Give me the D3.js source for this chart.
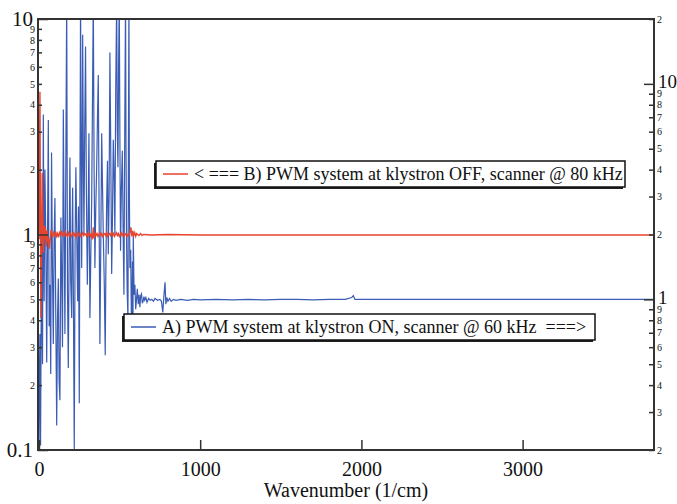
<!DOCTYPE html>
<html><head><meta charset="utf-8">
<script src="https://cdn.jsdelivr.net/npm/d3@7"></script>
<style>
body{margin:0;background:#fff}
svg text{font-family:"Liberation Serif","DejaVu Serif",serif !important;fill:#111}
</style>
</head><body>
<svg id="c" width="677" height="504" font-family="Liberation Serif, DejaVu Serif, serif"></svg>
<script>
// ---- data ----
// Series A (blue, right axis): PWM system at klystron ON, scanner @ 60 kHz
const wavenumberA = [0,3,6,10,16,22,27,32,37,43,48,53,58,63,68,73,78,84,89,94,99,104,110,115,120,125,130,136,141,146,151,156,161,166,172,177,182,187,192,197,203,206,209,214,219,224,229,234,240,245,250,254,258,262,265,268,271,275,279,284,289,294,300,305,310,313,316,321,327,332,337,342,347,352,358,363,368,373,378,383,389,394,399,405,411,415,420,425,430,435,440,445,451,456,461,466,471,476,482,486,490,494,498,502,506,511,517,522,527,532,537,540,543,547,552,555,558,561,564,569,574,580,583,585,590,595,600,605,610,616,621,626,631,636,641,646,651,656,663,670,680,690,700,710,720,735,750,760,768,775,782,787,793,800,810,820,835,850,880,920,960,1000,1100,1200,1300,1400,1500,1600,1700,1800,1900,1940,1950,1960,2100,2300,2500,2700,2900,3100,3300,3500,3700,3815];
const signalA = [0.2,0.45,0.69,0.21,2.0,0.5,7.2,0.98,4.0,1.68,0.51,1.9,6.8,0.75,1.17,0.45,4.8,1.3,0.62,1.9,2.95,0.9,0.26,0.8,1.25,0.42,0.34,2.4,1.25,0.6,7.6,2.2,0.69,3.5,25,1.1,0.48,1.6,4.55,1.2,0.82,2.2,3.3,0.9,0.2,1.8,4.1,2.1,0.98,2.7,0.33,3.0,25,4.5,1.4,3.8,16.9,5.0,2.0,6.5,14.9,3.3,1.17,2.3,5.9,1.9,0.82,1.5,2.87,8.5,25,4.0,1.4,2.6,4.1,7.0,11,2.5,0.62,1.6,5.9,3.4,2.0,1.2,0.55,1.4,2.87,4.4,1.62,3.0,14,5.2,1.31,2.4,5.5,3.8,2.0,9.0,25,6.0,4.1,12,25,5.5,1.68,3.2,4.9,2.1,1.05,6.0,25,5.0,2.0,1.1,0.82,5.0,25,3.0,1.4,1.7,0.69,1.5,0.75,2.0,1.05,1.17,0.9,1.0,1.12,0.95,1.05,0.92,1.04,1.06,0.96,0.98,1.03,0.99,1.02,0.97,1.01,0.99,1.0,0.98,1.01,0.99,1.0,0.98,0.87,1.04,1.2,0.95,1.02,0.98,1.01,0.98,1.0,0.99,1.0,0.99,1.0,0.995,1.0,0.995,1.0,0.995,1.0,1.0,0.995,1.0,1.0,1.02,1.04,1.0,1.0,1.0,1.0,1.0,1.0,1.0,1.0,1.0,1.0,1.0];
// Series B (red, left axis): PWM system at klystron OFF, scanner @ 80 kHz
const wavenumberB = [0,3,6,9,12,16,20,24,28,32,36,40,45,50,55,60,65,70,75,80,86,92,98,104,110,116,122,128,134,140,146,152,158,164,170,176,182,188,194,200,206,212,218,224,230,236,242,248,254,260,266,272,278,284,290,296,302,308,314,320,326,332,337,342,348,354,360,366,372,378,384,390,396,402,408,414,420,426,432,438,444,450,456,462,468,474,480,486,492,498,504,510,516,522,528,534,540,546,552,558,564,570,576,582,588,594,600,606,612,620,630,640,650,700,800,1000,1500,2000,2500,3000,3500,3815];
const signalB = [0.95,1.8,4.6,1.2,0.41,0.9,1.93,1.2,0.82,1.1,0.95,1.08,0.88,1.04,0.92,0.96,0.86,0.95,1.05,1.0,0.98,1.02,0.99,1.03,0.98,1.01,0.97,1.02,1.0,1.04,0.98,1.01,0.99,1.03,1.0,0.98,1.02,0.99,1.01,0.98,1.0,1.02,0.99,1.01,0.97,1.0,1.02,0.99,1.01,0.98,1.0,1.02,0.99,1.01,1.0,0.98,1.01,0.99,1.02,0.98,1.0,0.95,1.08,0.96,1.02,0.99,1.01,0.98,1.0,1.02,0.99,1.01,0.98,1.0,1.01,0.99,1.02,0.98,1.0,1.01,0.99,1.02,0.99,1.01,0.98,1.0,1.02,0.99,1.01,0.98,1.0,1.02,0.99,1.01,0.98,1.0,1.01,0.98,1.0,0.99,1.02,1.08,0.98,1.04,0.99,1.02,0.98,1.01,1.0,0.99,1.01,0.99,1.0,0.995,1.0,0.995,0.995,0.995,0.995,0.995,0.995,0.995];

const xTicks = [0, 1000, 2000, 3000];
const leftMajor = [0.1, 1, 10];
const leftMinor = [0.2,0.3,0.4,0.5,0.6,0.7,0.8,0.9,2,3,4,5,6,7,8,9];
const rightMajor = [1, 10];
const rightMinor = [0.2,0.3,0.4,0.5,0.6,0.7,0.8,0.9,2,3,4,5,6,7,8,9,20];
const xTitle = "Wavenumber (1/cm)";
const legendA = "A) PWM system at klystron ON, scanner @ 60 kHz  ===>";
const legendB = "< === B) PWM system at klystron OFF, scanner @ 80 kHz";

// ---- layout ----
const L = 38, R = 654, T = 19, B = 450;
const FONT = "Liberation Serif, DejaVu Serif, serif";
const svg = d3.select("#c");
const x = d3.scaleLinear().domain([-6, 3815]).range([L, R]);
const yL = d3.scaleLog().domain([0.1, 10]).range([B, T]);
const yR = d3.scaleLog().domain([0.2, 20]).range([B, T]);
const blue = "#3a5cb4", red = "#e8432c", axisCol = "#333";

svg.append("clipPath").attr("id","clip").append("rect")
  .attr("x",L).attr("y",T).attr("width",R-L).attr("height",B-T);

const dataA = wavenumberA.map((w,i)=>({w, v: signalA[i]}));
const dataB = wavenumberB.map((w,i)=>({w, v: signalB[i]}));

svg.append("path").datum(dataA).attr("clip-path","url(#clip)")
  .attr("fill","none").attr("stroke",blue).attr("stroke-width",1.2)
  .attr("d", d3.line().x(d=>x(d.w)).y(d=>yR(Math.min(d.v,40))));
svg.append("path").datum(dataB).attr("clip-path","url(#clip)")
  .attr("fill","none").attr("stroke",red).attr("stroke-width",1.4)
  .attr("d", d3.line().x(d=>x(d.w)).y(d=>yL(d.v)));

const digit = d => String(Math.round(d / Math.pow(10, Math.floor(Math.log10(d) + 1e-9))));
function style(g, fs){
  g.attr("font-family", FONT);
  g.select(".domain").remove();
  g.selectAll(".tick line").attr("stroke",axisCol).attr("stroke-width",1.5);
  g.selectAll(".tick text").attr("font-size",fs).attr("fill","#111").attr("font-family",FONT);
}

// bottom axis
const gx = svg.append("g").attr("transform",`translate(0,${B})`)
  .call(d3.axisBottom(x).tickValues(xTicks).tickFormat(d3.format("d")).tickSizeInner(-10).tickSizeOuter(0).tickPadding(12));
style(gx, 20);

// left axis
const gl1 = svg.append("g").attr("transform",`translate(${L},0)`)
  .call(d3.axisLeft(yL).tickValues(leftMajor).tickFormat(d=>String(d)).tickSizeInner(-10).tickSizeOuter(0).tickPadding(5));
style(gl1, 21);
const gl2 = svg.append("g").attr("transform",`translate(${L},0)`)
  .call(d3.axisLeft(yL).tickValues(leftMinor).tickFormat(digit).tickSizeInner(-4).tickSizeOuter(0).tickPadding(3));
style(gl2, 10);

// right axis
const gr1 = svg.append("g").attr("transform",`translate(${R},0)`)
  .call(d3.axisRight(yR).tickValues(rightMajor).tickFormat(d=>String(d)).tickSizeInner(-10).tickSizeOuter(0).tickPadding(4));
style(gr1, 19);
gr1.selectAll(".tick text").attr("dy","0.2em");
const gr2 = svg.append("g").attr("transform",`translate(${R},0)`)
  .call(d3.axisRight(yR).tickValues(rightMinor).tickFormat(digit).tickSizeInner(-5).tickSizeOuter(0).tickPadding(3));
style(gr2, 10);

// frame
svg.append("rect").attr("x",L).attr("y",T).attr("width",R-L).attr("height",B-T)
  .attr("fill","none").attr("stroke",axisCol).attr("stroke-width",2);

// x title
svg.append("text").attr("x",(L+R)/2).attr("y",497).attr("text-anchor","middle")
  .attr("font-family",FONT).attr("font-size",20).text(xTitle);

// legends
function legend(bx, by, bw, bh, col, label, tx){
  const g = svg.append("g");
  g.append("rect").attr("x",bx-2).attr("y",by+2).attr("width",bw).attr("height",bh).attr("fill","#222");
  g.append("rect").attr("x",bx).attr("y",by).attr("width",bw).attr("height",bh)
    .attr("fill","#fff").attr("stroke","#111").attr("stroke-width",1.5);
  g.append("line").attr("x1",bx+7).attr("x2",bx+32).attr("y1",by+bh/2).attr("y2",by+bh/2)
    .attr("stroke",col).attr("stroke-width",1.5);
  g.append("text").attr("x",tx).attr("y",by+bh/2+6).attr("font-size",18).attr("font-family",FONT)
    .attr("xml:space","preserve").style("white-space","pre").text(label);
}
legend(156, 161, 469, 26, red, legendB, 194);
legend(124, 314, 471, 26, blue, legendA, 162);
</script>
</body></html>
